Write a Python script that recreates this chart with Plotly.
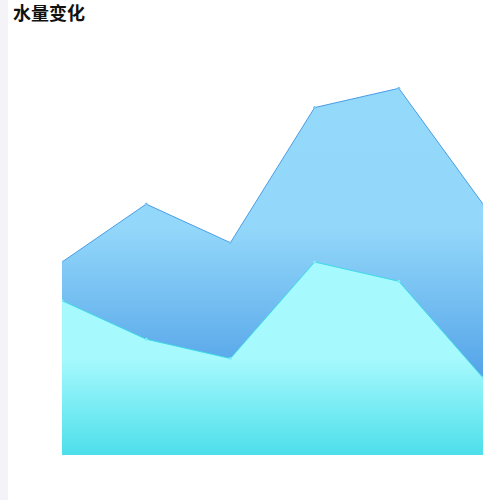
import plotly.graph_objects as go

categories = ["1", "2", "3", "4", "5", "6"]
back_values = [100, 130, 110, 180, 190, 130]
front_values = [80, 60, 50, 100, 90, 40]
title_text = "水量变化"

fig = go.Figure()
fig.add_trace(go.Scatter(
    x=categories, y=back_values, mode="lines+markers",
    line=dict(color="#4a9de6", width=1),
    marker=dict(size=3, color="#7cc4f5"),
    fill="tozeroy",
    fillgradient=dict(type="vertical", start=0, stop=190,
                      colorscale=[[0, "#3f92e2"], [40/190, "#54a3e8"],
                                  [118/190, "#93d8fa"], [1, "#93d9fa"]]),
    hoverinfo="skip",
))
fig.add_trace(go.Scatter(
    x=categories, y=front_values, mode="lines+markers",
    line=dict(color="#3edbe8", width=1),
    marker=dict(size=3, color="#7eeef6"),
    fill="tozeroy",
    fillgradient=dict(type="vertical", start=0, stop=100,
                      colorscale=[[0, "#4ddfea"], [50/100, "#a6f9fd"], [1, "#a6f9fd"]]),
    hoverinfo="skip",
))

fig.update_layout(
    width=500, height=500,
    margin=dict(l=62, r=17, t=69, b=45),
    paper_bgcolor="white", plot_bgcolor="white",
    showlegend=False,
    title=dict(text="<b>" + title_text + "</b>", x=13/500, xref="container", xanchor="left",
               y=1, yref="container", yanchor="top", pad=dict(t=7),
               font=dict(family="Noto Sans CJK SC", size=18, color="#111111")),
    xaxis=dict(visible=False, range=[0, 5], fixedrange=True),
    yaxis=dict(visible=False, range=[0, 200], fixedrange=True),
    shapes=[dict(type="rect", xref="paper", yref="paper",
                 x0=-62/421, x1=-54/421, y0=-1, y1=2,
                 fillcolor="#f3f3f8", line=dict(width=0), layer="below")],
)
fig.write_html("out.html", post_script="document.body.style.margin='0';",
               config={"displayModeBar": False})
